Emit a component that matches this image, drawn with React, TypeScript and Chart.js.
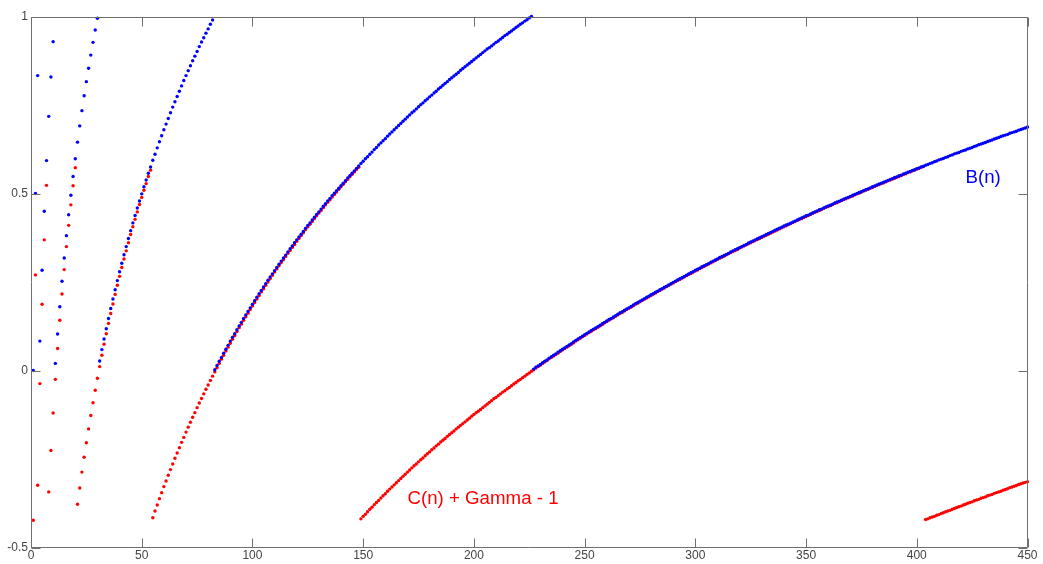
import React, { useEffect, useRef } from "react";
import { Chart, registerables } from "chart.js";

Chart.register(...registerables);

// n runs from N_FIRST upward, one value per integer n
const N_FIRST = 1;

// B(n) (n = 1 .. 450)
const bValues = [
  0, 0.5, 0.833, 0.083, 0.283, 0.45, 0.593, 0.718, 0.829, 0.929,
  0.02, 0.103, 0.18, 0.252, 0.318, 0.381, 0.44, 0.495, 0.548, 0.598,
  0.645, 0.691, 0.734, 0.776, 0.816, 0.854, 0.891, 0.927, 0.962, 0.995,
  0.027, 0.059, 0.089, 0.118, 0.147, 0.175, 0.202, 0.228, 0.254, 0.279,
  0.303, 0.327, 0.35, 0.373, 0.395, 0.417, 0.438, 0.459, 0.479, 0.499,
  0.519, 0.538, 0.557, 0.575, 0.594, 0.611, 0.629, 0.646, 0.663, 0.68,
  0.696, 0.712, 0.728, 0.744, 0.759, 0.774, 0.789, 0.804, 0.819, 0.833,
  0.847, 0.861, 0.875, 0.888, 0.901, 0.915, 0.928, 0.94, 0.953, 0.965,
  0.978, 0.99, 0.002, 0.014, 0.026, 0.037, 0.049, 0.06, 0.071, 0.083,
  0.094, 0.104, 0.115, 0.126, 0.136, 0.147, 0.157, 0.167, 0.177, 0.187,
  0.197, 0.207, 0.217, 0.226, 0.236, 0.245, 0.255, 0.264, 0.273, 0.282,
  0.291, 0.3, 0.309, 0.318, 0.326, 0.335, 0.344, 0.352, 0.361, 0.369,
  0.377, 0.385, 0.393, 0.402, 0.41, 0.417, 0.425, 0.433, 0.441, 0.448,
  0.456, 0.464, 0.471, 0.479, 0.486, 0.494, 0.501, 0.508, 0.515, 0.522,
  0.529, 0.536, 0.544, 0.55, 0.557, 0.564, 0.571, 0.578, 0.585, 0.591,
  0.598, 0.604, 0.611, 0.617, 0.624, 0.63, 0.637, 0.643, 0.649, 0.655,
  0.662, 0.668, 0.674, 0.68, 0.686, 0.692, 0.698, 0.704, 0.71, 0.716,
  0.722, 0.728, 0.733, 0.739, 0.745, 0.751, 0.756, 0.762, 0.767, 0.773,
  0.778, 0.784, 0.789, 0.795, 0.8, 0.806, 0.811, 0.816, 0.822, 0.827,
  0.832, 0.837, 0.842, 0.848, 0.853, 0.858, 0.863, 0.868, 0.873, 0.878,
  0.883, 0.888, 0.893, 0.898, 0.903, 0.908, 0.912, 0.917, 0.922, 0.927,
  0.931, 0.936, 0.941, 0.946, 0.95, 0.955, 0.959, 0.964, 0.969, 0.973,
  0.978, 0.982, 0.987, 0.991, 0.996, 1.0, 0.004, 0.009, 0.013, 0.017,
  0.022, 0.026, 0.03, 0.035, 0.039, 0.043, 0.047, 0.052, 0.056, 0.06,
  0.064, 0.068, 0.072, 0.076, 0.081, 0.085, 0.089, 0.093, 0.097, 0.101,
  0.105, 0.109, 0.113, 0.117, 0.12, 0.124, 0.128, 0.132, 0.136, 0.14,
  0.144, 0.147, 0.151, 0.155, 0.159, 0.163, 0.166, 0.17, 0.174, 0.177,
  0.181, 0.185, 0.189, 0.192, 0.196, 0.199, 0.203, 0.207, 0.21, 0.214,
  0.217, 0.221, 0.224, 0.228, 0.231, 0.235, 0.238, 0.242, 0.245, 0.249,
  0.252, 0.256, 0.259, 0.262, 0.266, 0.269, 0.273, 0.276, 0.279, 0.283,
  0.286, 0.289, 0.293, 0.296, 0.299, 0.302, 0.306, 0.309, 0.312, 0.315,
  0.319, 0.322, 0.325, 0.328, 0.331, 0.335, 0.338, 0.341, 0.344, 0.347,
  0.35, 0.353, 0.356, 0.36, 0.363, 0.366, 0.369, 0.372, 0.375, 0.378,
  0.381, 0.384, 0.387, 0.39, 0.393, 0.396, 0.399, 0.402, 0.405, 0.408,
  0.411, 0.413, 0.416, 0.419, 0.422, 0.425, 0.428, 0.431, 0.434, 0.437,
  0.439, 0.442, 0.445, 0.448, 0.451, 0.454, 0.456, 0.459, 0.462, 0.465,
  0.467, 0.47, 0.473, 0.476, 0.478, 0.481, 0.484, 0.487, 0.489, 0.492,
  0.495, 0.497, 0.5, 0.503, 0.505, 0.508, 0.511, 0.513, 0.516, 0.519,
  0.521, 0.524, 0.527, 0.529, 0.532, 0.534, 0.537, 0.54, 0.542, 0.545,
  0.547, 0.55, 0.552, 0.555, 0.557, 0.56, 0.562, 0.565, 0.567, 0.57,
  0.572, 0.575, 0.577, 0.58, 0.582, 0.585, 0.587, 0.59, 0.592, 0.595,
  0.597, 0.599, 0.602, 0.604, 0.607, 0.609, 0.612, 0.614, 0.616, 0.619,
  0.621, 0.623, 0.626, 0.628, 0.63, 0.633, 0.635, 0.638, 0.64, 0.642,
  0.644, 0.647, 0.649, 0.651, 0.654, 0.656, 0.658, 0.661, 0.663, 0.665,
  0.667, 0.67, 0.672, 0.674, 0.676, 0.679, 0.681, 0.683, 0.685, 0.688,
];

// C(n) + Gamma - 1 (n = 1 .. 450)
const cValues = [
  -0.423, 0.27, -0.324, -0.037, 0.187, 0.369, 0.523, -0.343, -0.226, -0.12,
  -0.025, 0.062, 0.142, 0.216, 0.285, 0.35, 0.41, 0.468, 0.522, 0.573,
  -0.378, -0.332, -0.287, -0.245, -0.204, -0.165, -0.127, -0.091, -0.056, -0.022,
  0.011, 0.043, 0.074, 0.104, 0.133, 0.161, 0.188, 0.215, 0.241, 0.266,
  0.291, 0.315, 0.338, 0.361, 0.384, 0.406, 0.427, 0.448, 0.469, 0.489,
  0.509, 0.528, 0.548, 0.566, -0.416, -0.397, -0.38, -0.362, -0.345, -0.328,
  -0.312, -0.296, -0.28, -0.264, -0.248, -0.233, -0.218, -0.203, -0.189, -0.174,
  -0.16, -0.146, -0.132, -0.119, -0.105, -0.092, -0.079, -0.066, -0.053, -0.041,
  -0.028, -0.016, -0.004, 0.008, 0.02, 0.032, 0.043, 0.055, 0.066, 0.077,
  0.088, 0.099, 0.11, 0.121, 0.131, 0.142, 0.152, 0.162, 0.172, 0.182,
  0.192, 0.202, 0.212, 0.222, 0.231, 0.241, 0.25, 0.259, 0.269, 0.278,
  0.287, 0.296, 0.305, 0.313, 0.322, 0.331, 0.339, 0.348, 0.356, 0.365,
  0.373, 0.381, 0.389, 0.398, 0.406, 0.413, 0.421, 0.429, 0.437, 0.445,
  0.452, 0.46, 0.468, 0.475, 0.482, 0.49, 0.497, 0.504, 0.512, 0.519,
  0.526, 0.533, 0.54, 0.547, 0.554, 0.561, 0.568, 0.574, -0.419, -0.412,
  -0.406, -0.399, -0.392, -0.386, -0.379, -0.373, -0.367, -0.36, -0.354, -0.348,
  -0.341, -0.335, -0.329, -0.323, -0.317, -0.311, -0.305, -0.299, -0.293, -0.287,
  -0.281, -0.275, -0.269, -0.264, -0.258, -0.252, -0.247, -0.241, -0.235, -0.23,
  -0.224, -0.219, -0.213, -0.208, -0.202, -0.197, -0.192, -0.186, -0.181, -0.176,
  -0.171, -0.165, -0.16, -0.155, -0.15, -0.145, -0.14, -0.135, -0.129, -0.124,
  -0.119, -0.115, -0.11, -0.105, -0.1, -0.095, -0.09, -0.085, -0.08, -0.076,
  -0.071, -0.066, -0.061, -0.057, -0.052, -0.048, -0.043, -0.038, -0.034, -0.029,
  -0.025, -0.02, -0.016, -0.011, -0.007, -0.002, 0.002, 0.007, 0.011, 0.015,
  0.02, 0.024, 0.028, 0.033, 0.037, 0.041, 0.045, 0.049, 0.054, 0.058,
  0.062, 0.066, 0.07, 0.074, 0.078, 0.083, 0.087, 0.091, 0.095, 0.099,
  0.103, 0.107, 0.111, 0.115, 0.118, 0.122, 0.126, 0.13, 0.134, 0.138,
  0.142, 0.146, 0.149, 0.153, 0.157, 0.161, 0.164, 0.168, 0.172, 0.176,
  0.179, 0.183, 0.187, 0.19, 0.194, 0.198, 0.201, 0.205, 0.208, 0.212,
  0.216, 0.219, 0.223, 0.226, 0.23, 0.233, 0.237, 0.24, 0.244, 0.247,
  0.251, 0.254, 0.257, 0.261, 0.264, 0.268, 0.271, 0.274, 0.278, 0.281,
  0.284, 0.288, 0.291, 0.294, 0.298, 0.301, 0.304, 0.307, 0.311, 0.314,
  0.317, 0.32, 0.323, 0.327, 0.33, 0.333, 0.336, 0.339, 0.342, 0.346,
  0.349, 0.352, 0.355, 0.358, 0.361, 0.364, 0.367, 0.37, 0.373, 0.376,
  0.379, 0.382, 0.385, 0.388, 0.391, 0.394, 0.397, 0.4, 0.403, 0.406,
  0.409, 0.412, 0.415, 0.418, 0.421, 0.424, 0.427, 0.429, 0.432, 0.435,
  0.438, 0.441, 0.444, 0.447, 0.449, 0.452, 0.455, 0.458, 0.461, 0.463,
  0.466, 0.469, 0.472, 0.474, 0.477, 0.48, 0.483, 0.485, 0.488, 0.491,
  0.493, 0.496, 0.499, 0.501, 0.504, 0.507, 0.509, 0.512, 0.515, 0.517,
  0.52, 0.523, 0.525, 0.528, 0.53, 0.533, 0.536, 0.538, 0.541, 0.543,
  0.546, 0.548, 0.551, 0.554, 0.556, 0.559, 0.561, 0.564, 0.566, 0.569,
  0.571, 0.574, 0.576, -0.421, -0.419, -0.416, -0.414, -0.412, -0.409, -0.407,
  -0.404, -0.402, -0.399, -0.397, -0.395, -0.392, -0.39, -0.387, -0.385, -0.383,
  -0.38, -0.378, -0.375, -0.373, -0.371, -0.368, -0.366, -0.364, -0.361, -0.359,
  -0.357, -0.354, -0.352, -0.35, -0.347, -0.345, -0.343, -0.341, -0.338, -0.336,
  -0.334, -0.331, -0.329, -0.327, -0.325, -0.322, -0.32, -0.318, -0.316, -0.314,
];

const xTickValues = [0, 50, 100, 150, 200, 250, 300, 350, 400, 450];
const yTickValues = [-0.5, 0, 0.5, 1];
const xRange = [0, 450];
const yRange = [-0.5, 1];

const bLabel = "B(n)";
const cLabel = "C(n) + Gamma - 1";

const FONT = "'Liberation Sans', Arial, Helvetica, sans-serif";
const BLUE = "#0000ff";
const RED = "#ff0000";
const AXIS = "#6f6f6f";
const TICK_TEXT = "#444444";

export default function App() {
  const canvasRef = useRef<HTMLCanvasElement | null>(null);

  useEffect(() => {
    const canvas = canvasRef.current;
    if (!canvas) return;

    const toPoints = (arr: number[]) => arr.map((y, i) => ({ x: i + N_FIRST, y }));

    const matlabAxes = {
      id: "matlabAxes",
      afterDatasetsDraw(chart: any) {
        const { ctx, chartArea, scales } = chart;
        const { left, right, top, bottom } = chartArea;
        const xs = scales.x;
        const ys = scales.y;
        const tickLen = 9;
        const L = Math.round(left) + 0.5;
        const R = Math.round(right) - 0.5;
        const T = Math.round(top) + 0.5;
        const B = Math.round(bottom) - 0.5;
        ctx.save();
        ctx.strokeStyle = AXIS;
        ctx.lineWidth = 1;
        ctx.beginPath();
        ctx.rect(L, T, R - L, B - T);
        for (const v of xTickValues) {
          const px = Math.round(xs.getPixelForValue(v)) + 0.5;
          ctx.moveTo(px, B);
          ctx.lineTo(px, B - tickLen);
          ctx.moveTo(px, T);
          ctx.lineTo(px, T + tickLen);
        }
        for (const v of yTickValues) {
          const py = Math.round(ys.getPixelForValue(v)) + 0.5;
          ctx.moveTo(L, py);
          ctx.lineTo(L + tickLen, py);
          ctx.moveTo(R, py);
          ctx.lineTo(R - tickLen, py);
        }
        ctx.stroke();

        ctx.font = `18.7px ${FONT}`;
        ctx.textBaseline = "middle";
        ctx.textAlign = "left";
        ctx.fillStyle = BLUE;
        ctx.fillText(bLabel, xs.getPixelForValue(422), ys.getPixelForValue(0.545));
        ctx.fillStyle = RED;
        ctx.fillText(cLabel, xs.getPixelForValue(170), ys.getPixelForValue(-0.362));
        ctx.restore();
      },
    };

    const chart = new Chart(canvas, {
      type: "scatter",
      data: {
        datasets: [
          {
            label: bLabel,
            data: toPoints(bValues),
            backgroundColor: BLUE,
            borderColor: BLUE,
            pointRadius: 1.7,
            pointBorderWidth: 0,
            pointHoverRadius: 1.7,
            showLine: false,
            clip: false,
          },
          {
            label: cLabel,
            data: toPoints(cValues),
            backgroundColor: RED,
            borderColor: RED,
            pointRadius: 1.7,
            pointBorderWidth: 0,
            pointHoverRadius: 1.7,
            showLine: false,
            clip: false,
          },
        ],
      },
      options: {
        responsive: false,
        animation: false,
        events: [],
        layout: { padding: { top: 16.5, right: 15.5, left: 0, bottom: 0 } },
        plugins: {
          legend: { display: false },
          tooltip: { enabled: false },
        },
        scales: {
          x: {
            type: "linear",
            min: xRange[0],
            max: xRange[1],
            grid: { display: false, drawTicks: false },
            border: { display: false },
            ticks: {
              color: TICK_TEXT,
              font: { family: FONT, size: 12 },
              padding: 1,
              maxRotation: 0,
              autoSkip: false,
              callback: (v: any) => String(v),
            },
            afterBuildTicks: (s: any) => {
              s.ticks = xTickValues.map((v) => ({ value: v }));
            },
            afterFit: (s: any) => {
              s.height = 16.5;
            },
          },
          y: {
            type: "linear",
            min: yRange[0],
            max: yRange[1],
            grid: { display: false, drawTicks: false },
            border: { display: false },
            ticks: {
              color: TICK_TEXT,
              font: { family: FONT, size: 12 },
              padding: 3,
              autoSkip: false,
              callback: (v: any) => String(v),
            },
            afterBuildTicks: (s: any) => {
              s.ticks = yTickValues.map((v) => ({ value: v }));
            },
            afterFit: (s: any) => {
              s.width = 31;
            },
          },
        },
      },
      plugins: [matlabAxes],
    });

    return () => chart.destroy();
  }, []);

  return (
    <div style={{ position: "absolute", left: 0, top: 0, width: 1043, height: 564, background: "#ffffff" }}>
      <canvas ref={canvasRef} width={1043} height={564} style={{ display: "block" }} />
    </div>
  );
}
